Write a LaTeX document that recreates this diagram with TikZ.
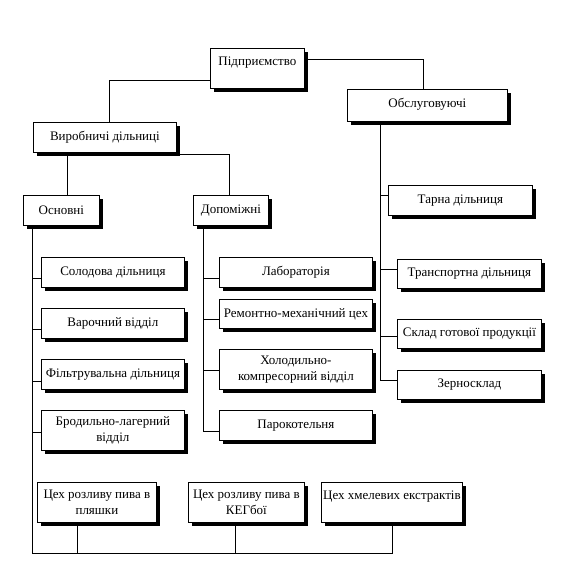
\documentclass[tikz,border=0pt]{standalone}
\usepackage{fontspec}
\setmainfont{Liberation Serif}
\usepackage{tikz}
\usetikzlibrary{shadows}

\tikzset{
  unit/.style={draw, line width=0.8pt, fill=white, anchor=north west,
    inner sep=0pt, align=center, font=\fontsize{13}{16}\selectfont,
    drop shadow={shadow xshift=4pt, shadow yshift=-4pt, fill=black, opacity=1}},
  toptext/.style={text depth=#1},
  link/.style={line width=0.8pt}
}

\begin{document}
\begin{tikzpicture}[x=1pt,y=-1pt]
				\useasboundingbox (0,0) rectangle (564,564);
				% Верхній рівень
				\node[unit, minimum width=94pt, minimum height=40pt, toptext=14pt] (pid) at (210,48) {Підприємство};
				\node[unit, minimum width=160pt, minimum height=32pt, toptext=6pt] (obs) at (347,89) {Обслуговуючі};
				\node[unit, minimum width=143pt, minimum height=30pt] (vyr) at (33,122) {Виробничі дільниці};
				\node[unit, minimum width=76pt, minimum height=30pt] (osn) at (23,195) {Основні};
				\node[unit, minimum width=75pt, minimum height=30pt] (dop) at (193,195) {Допоміжні};

				% Основні
				\node[unit, minimum width=143pt, minimum height=30pt] (sol) at (41,257) {Солодова дільниця};
				\node[unit, minimum width=143pt, minimum height=30pt] (var) at (41,308) {Варочний відділ};
				\node[unit, minimum width=143pt, minimum height=30pt] (filt) at (41,359) {Фільтрувальна дільниця};
				\node[unit, minimum width=143pt, minimum height=40pt] (brod) at (41,410) {Бродильно-лагерний\\відділ};

				% Допоміжні
				\node[unit, minimum width=153pt, minimum height=30pt] (lab) at (219,257) {Лабораторія};
				\node[unit, minimum width=153pt, minimum height=29pt] (rem) at (219,299) {Ремонтно-механічний цех};
				\node[unit, minimum width=153pt, minimum height=40pt] (hol) at (219,349) {Холодильно-\\компресорний відділ};
				\node[unit, minimum width=153pt, minimum height=30pt] (par) at (219,410) {Парокотельня};

				% Обслуговуючі
				\node[unit, minimum width=144pt, minimum height=30pt] (tar) at (388,185) {Тарна дільниця};
				\node[unit, minimum width=144pt, minimum height=29pt] (tran) at (397,259) {Транспортна дільниця};
				\node[unit, minimum width=144pt, minimum height=29pt] (skl) at (397,319) {Склад готової продукції};
				\node[unit, minimum width=144pt, minimum height=29pt] (zern) at (397,370) {Зерносклад};

				% Цехи
				\node[unit, minimum width=119pt, minimum height=40pt, toptext=0pt] (roz1) at (37,482) {Цех розливу пива в\\пляшки};
				\node[unit, minimum width=116pt, minimum height=40pt, toptext=0pt] (roz2) at (188,482) {Цех розливу пива в\\КЕГбої};
				\node[unit, minimum width=141pt, minimum height=40pt, toptext=14pt] (hmel) at (321,482) {Цех хмелевих екстрактів};

				% Зв'язки
				\draw[link] ([yshift=-12pt]pid.west) -| ([xshift=4pt]vyr.north);
				\draw[link] ([yshift=9pt]pid.east) -| ([xshift=-4pt]obs.north);
				\draw[link] ([xshift=6pt]osn.north) -- ([xshift=6pt]osn.north |- vyr.south);
				\draw[link] ([yshift=-2pt]vyr.south east) -| ([xshift=-2pt]dop.north);

				\coordinate (osnspine) at ([xshift=9pt]osn.south west);
				\coordinate (dopspine) at ([xshift=10pt]dop.south west);
				\coordinate (obsspine) at ([xshift=33pt]obs.south west);

				\draw[link] (osnspine) |- ([yshift=-31pt]hmel.south);
				\draw[link] (dopspine) |- ([yshift=-6pt]par.west);
				\draw[link] (obsspine) |- ([yshift=4.5pt]zern.west);

				\foreach \n/\s in {sol/-6pt, var/-6pt, filt/-7pt, brod/-2pt}
					\draw[link] ([yshift=\s]\n.west) -- ([yshift=\s]\n.west -| osnspine);
				\foreach \n/\s in {lab/-6pt, rem/-5.5pt, hol/-1pt}
					\draw[link] ([yshift=\s]\n.west) -- ([yshift=\s]\n.west -| dopspine);
				\foreach \n/\s in {tar/5pt, tran/4.5pt, skl/-2.5pt}
					\draw[link] ([yshift=\s]\n.west) -- ([yshift=\s]\n.west -| obsspine);

				\draw[link] ([xshift=-19.5pt]roz1.south) -- ++(0,31);
				\draw[link] ([xshift=-11pt]roz2.south) -- ++(0,31);
				\draw[link] ([xshift=0.5pt]hmel.south) -- ++(0,31);
			\end{tikzpicture}
\end{document}
